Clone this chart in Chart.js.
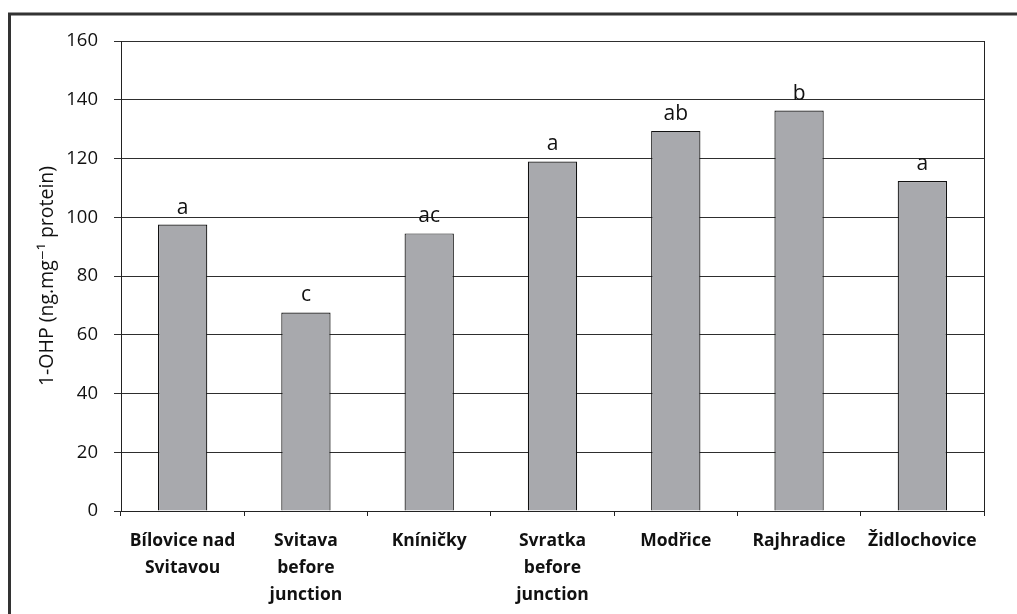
<!DOCTYPE html>
<html>
<head>
<meta charset="utf-8">
<script src="https://cdn.jsdelivr.net/npm/chart.js@4"></script>
<style>
  html, body { margin: 0; padding: 0; background: #fff; overflow: hidden; }
  #wrap { width: 1017px; height: 614px; position: relative; }
</style>
</head>
<body>
<div id="wrap"><canvas id="c" width="1017" height="614"></canvas></div>
<script>
// Sampling sites along the rivers
const sites = [
  ['Bílovice nad', 'Svitavou'],
  ['Svitava', 'before', 'junction'],
  ['Kníničky'],
  ['Svratka', 'before', 'junction'],
  ['Modřice'],
  ['Rajhradice'],
  ['Židlochovice']
];
// Mean 1-OHP concentration per site (ng per mg protein)
const ohpValues = [97.5, 67.6, 94.5, 119.0, 129.4, 136.3, 112.3];
// Letters marking statistically homogeneous groups
const groupLetters = ['a', 'c', 'ac', 'a', 'ab', 'b', 'a'];
// Y-axis range and step
const yMin = 0, yMax = 160, yStep = 20;

const FONT = "'Open Sans', 'DejaVu Sans', sans-serif";

// Outer frame around the figure
const framePlugin = {
  id: 'frame',
  beforeDraw(chart) {
    const ctx = chart.ctx;
    ctx.save();
    ctx.strokeStyle = '#333';
    ctx.lineWidth = 3;
    ctx.strokeRect(9.5, 14, 1200, 800);
    ctx.restore();
  },
  afterDraw(chart) {
    // right edge of the plot box
    const a = chart.chartArea;
    const ctx = chart.ctx;
    ctx.save();
    ctx.strokeStyle = '#222';
    ctx.lineWidth = 1;
    ctx.beginPath();
    ctx.moveTo(Math.round(a.right) + 0.5, a.top);
    ctx.lineTo(Math.round(a.right) + 0.5, a.bottom + 5);
    ctx.stroke();
    ctx.restore();
  }
};

// Group letters above each bar
const letterPlugin = {
  id: 'letters',
  afterDatasetsDraw(chart) {
    const ctx = chart.ctx;
    const meta = chart.getDatasetMeta(0);
    ctx.save();
    ctx.font = '21px ' + FONT;
    ctx.fillStyle = '#111';
    ctx.textAlign = 'center';
    ctx.textBaseline = 'alphabetic';
    meta.data.forEach((bar, i) => {
      ctx.fillText(groupLetters[i], bar.x, bar.y - 11);
    });
    ctx.restore();
  }
};

new Chart(document.getElementById('c'), {
  type: 'bar',
  data: {
    labels: sites,
    datasets: [{
      data: ohpValues,
      backgroundColor: '#a8a9ad',
      borderColor: '#111',
      borderWidth: 1.2,
      categoryPercentage: 1.0,
      barPercentage: 0.4
    }]
  },
  options: {
    responsive: false,
    animation: false,
    events: [],
    layout: { padding: { top: 41, right: 33, left: 0, bottom: 0 } },
    plugins: {
      legend: { display: false },
      tooltip: { enabled: false }
    },
    scales: {
      x: {
        offset: true,
        grid: {
          display: true,
          offset: true,
          drawOnChartArea: false,
          drawTicks: true,
          tickLength: 5,
          color: '#222'
        },
        border: { display: true, color: '#222', width: 1 },
        ticks: {
          color: '#111',
          padding: 12,
          maxRotation: 0,
          autoSkip: false,
          font: { family: FONT, size: 17.5, weight: 'bold', lineHeight: 1.53 }
        },
        afterFit(scale) { scale.height = 103; }
      },
      y: {
        min: yMin,
        max: yMax,
        grid: {
          color: '#2e2e2e',
          lineWidth: 1,
          drawTicks: true,
          tickLength: 7
        },
        border: { display: true, color: '#222', width: 1 },
        ticks: {
          stepSize: yStep,
          color: '#111',
          padding: 16,
          font: { family: FONT, size: 18.5 }
        },
        title: {
          display: true,
          text: '1-OHP (ng.mg⁻¹ protein)',
          color: '#111',
          font: { family: FONT, size: 19.5 },
          padding: { top: 36, bottom: 0 }
        },
        afterFit(scale) { scale.width = 121; }
      }
    }
  },
  plugins: [framePlugin, letterPlugin]
});
</script>
</body>
</html>
